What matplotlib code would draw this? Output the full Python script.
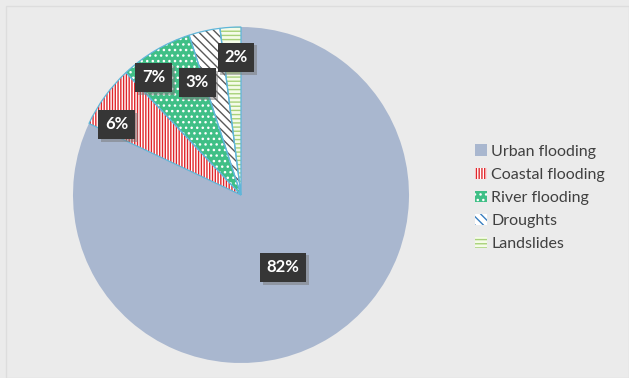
import matplotlib.pyplot as plt
import matplotlib.patheffects as pe
from matplotlib.patches import Patch, Rectangle

labels = ['Urban flooding', 'Coastal flooding', 'River flooding', 'Droughts', 'Landslides']
values = [82, 6, 7, 3, 2]
pct_text = ['82%', '6%', '7%', '3%', '2%']

faces = ['#a9b7cf', 'white', '#3fbf86', 'white', '#f4fbe8']
hatch_cols = ['#a9b7cf', '#e0262b', 'white', '#595959', '#a8d17a']
hatches = [None, '||||||', '...', '\\\\\\\\', '----']
edge = '#5fb6d9'

# label positions (pie radius = 1)
label_pos = [(0.25, -0.43), (-0.74, 0.42), (-0.52, 0.70), (-0.26, 0.67), (-0.03, 0.82)]

plt.rcParams['font.family'] = ['Lato', 'DejaVu Sans']
fig = plt.figure(figsize=(6.29, 3.78), dpi=100)
fig.patch.set_facecolor('#ebebeb')
fig.patches.append(Rectangle((6 / 629, 0), 623 / 629, 372 / 378, transform=fig.transFigure,
                             fill=False, edgecolor='#dddddd', lw=1))

ax = fig.add_axes([(241 - 168) / 629, (378 - 195 - 168) / 378, 336 / 629, 336 / 378])
wedges, _ = ax.pie(values, startangle=90, counterclock=False, radius=1,
                   wedgeprops=dict(linewidth=0))
for w, fc, hc, h in zip(wedges, faces, hatch_cols, hatches):
    w.set_facecolor(fc)
    w.set_edgecolor(hc)
    if h:
        w.set_hatch(h)

# outlines for the small slices
outl, _ = ax.pie(values, startangle=90, counterclock=False, radius=1,
                 wedgeprops=dict(facecolor='none', edgecolor=edge, linewidth=0.9))
outl[0].set_edgecolor('none')

for (x, y), t in zip(label_pos, pct_text):
    txt = ax.text(x, y, t, ha='center', va='center', fontsize=12,
                  fontweight='bold', color='white',
                  bbox=dict(boxstyle='square,pad=0.4', facecolor='#363636', edgecolor='none'))
    txt.get_bbox_patch().set_path_effects(
        [pe.SimplePatchShadow(offset=(2, -2), shadow_rgbFace='#777777', alpha=0.5), pe.Normal()])

ax.set_xlim(-1, 1)
ax.set_ylim(-1, 1)
ax.set_aspect('equal')
ax.axis('off')

handles = []
for fc, hc, h in zip(faces, hatch_cols, hatches):
    handles.append(Patch(facecolor=fc, edgecolor=hc, hatch=h, linewidth=0))
handles[3].set_edgecolor('#3a7fc0')
leg = fig.legend(handles, labels, loc='upper left', bbox_to_anchor=(461 / 629, 1 - 130 / 378),
                 frameon=False, fontsize=11.5, handlelength=0.7, handleheight=0.7,
                 handletextpad=0.3, labelspacing=0.56, labelcolor='#404040')

fig.savefig('out.png', dpi=100, facecolor=fig.get_facecolor())
